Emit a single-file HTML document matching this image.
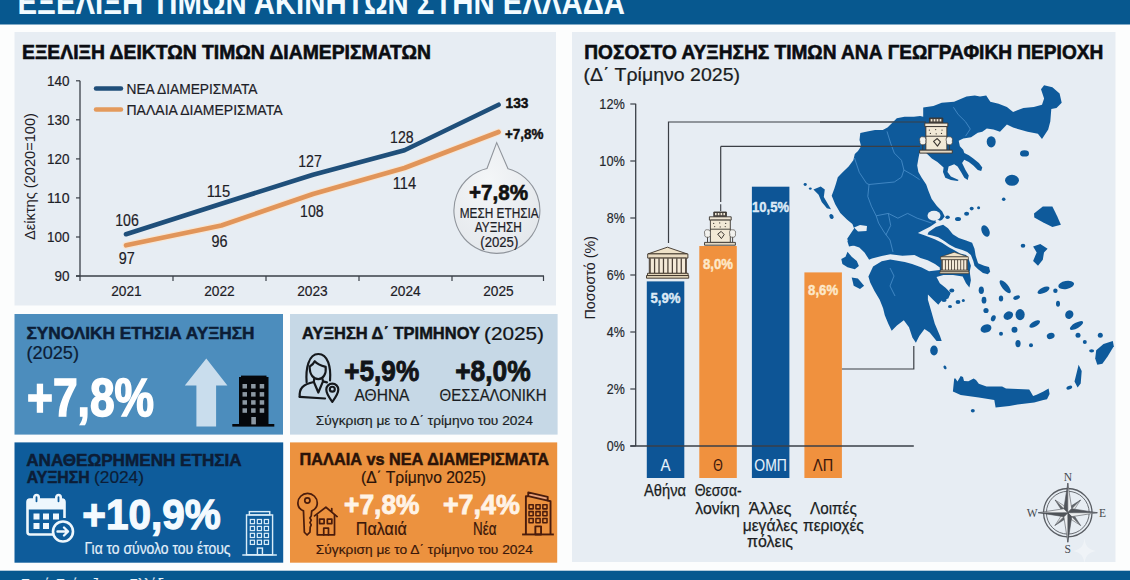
<!DOCTYPE html>
<html><head><meta charset="utf-8"><title>Εξέλιξη τιμών ακινήτων</title>
<style>html,body{margin:0;padding:0;background:#fcfdfd;width:1130px;height:580px;overflow:hidden}</style>
</head><body>
<svg width="1130" height="580" viewBox="0 0 1130 580" style="display:block;font-family:'Liberation Sans', sans-serif"><rect x="0" y="0" width="1130" height="580" fill="#fcfdfd"/>
<rect x="0" y="0" width="1130" height="24.5" fill="#07588f"/>
<rect x="0" y="570.7" width="1130" height="10" fill="#07588f"/>
<rect x="14.5" y="32" width="541.5" height="273.5" fill="#e7edf3"/>
<rect x="572" y="32" width="543.5" height="530" fill="#e7edf3"/>
<rect x="14.5" y="314" width="268.5" height="120.6" fill="#4c8dbd"/>
<rect x="290" y="314" width="267.6" height="120.6" fill="#c6d8e6"/>
<rect x="14.5" y="442.4" width="268.7" height="120.3" fill="#0e5c9b"/>
<rect x="290" y="442.4" width="267.2" height="120.3" fill="#ec923f"/>
<text x="17.5" y="14.2" font-size="33" font-weight="bold" fill="#f2fbff" text-anchor="start" textLength="607.5" lengthAdjust="spacingAndGlyphs" >ΕΞΕΛΙΞΗ ΤΙΜΩΝ ΑΚΙΝΗΤΩΝ ΣΤΗΝ ΕΛΛΑΔΑ</text>
<text x="21" y="589" font-size="15" font-weight="normal" fill="#e8f2fa" text-anchor="start" textLength="156" lengthAdjust="spacingAndGlyphs" stroke="#e8f2fa" stroke-width="0.18" >Πηγή: Τράπεζα της Ελλάδος</text>
<text x="22" y="59" font-size="20.5" font-weight="bold" fill="#0b0d12" text-anchor="start" textLength="409" lengthAdjust="spacingAndGlyphs" stroke="#0b0d12" stroke-width="0.61" >ΕΞΕΛΙΞΗ ΔΕΙΚΤΩΝ ΤΙΜΩΝ ΔΙΑΜΕΡΙΣΜΑΤΩΝ</text>
<line x1="80" y1="80.8" x2="80" y2="281" stroke="#3a3f47" stroke-width="1.3"/>
<line x1="76" y1="276" x2="544" y2="276" stroke="#3a3f47" stroke-width="1.6"/>
<line x1="76" y1="80.8" x2="80" y2="80.8" stroke="#3a3f47" stroke-width="1.2"/>
<text x="69.5" y="85.8" font-size="15.5" font-weight="normal" fill="#1d2026" text-anchor="end" textLength="22.5" lengthAdjust="spacingAndGlyphs" stroke="#1d2026" stroke-width="0.19" >140</text>
<line x1="76" y1="119.8" x2="80" y2="119.8" stroke="#3a3f47" stroke-width="1.2"/>
<text x="69.5" y="124.8" font-size="15.5" font-weight="normal" fill="#1d2026" text-anchor="end" textLength="22.5" lengthAdjust="spacingAndGlyphs" stroke="#1d2026" stroke-width="0.19" >130</text>
<line x1="76" y1="158.9" x2="80" y2="158.9" stroke="#3a3f47" stroke-width="1.2"/>
<text x="69.5" y="163.9" font-size="15.5" font-weight="normal" fill="#1d2026" text-anchor="end" textLength="22.5" lengthAdjust="spacingAndGlyphs" stroke="#1d2026" stroke-width="0.19" >120</text>
<line x1="76" y1="197.9" x2="80" y2="197.9" stroke="#3a3f47" stroke-width="1.2"/>
<text x="69.5" y="202.9" font-size="15.5" font-weight="normal" fill="#1d2026" text-anchor="end" textLength="22.5" lengthAdjust="spacingAndGlyphs" stroke="#1d2026" stroke-width="0.19" >110</text>
<line x1="76" y1="237.0" x2="80" y2="237.0" stroke="#3a3f47" stroke-width="1.2"/>
<text x="69.5" y="242.0" font-size="15.5" font-weight="normal" fill="#1d2026" text-anchor="end" textLength="22.5" lengthAdjust="spacingAndGlyphs" stroke="#1d2026" stroke-width="0.19" >100</text>
<line x1="76" y1="276.0" x2="80" y2="276.0" stroke="#3a3f47" stroke-width="1.2"/>
<text x="69.5" y="281.0" font-size="15.5" font-weight="normal" fill="#1d2026" text-anchor="end" textLength="15" lengthAdjust="spacingAndGlyphs" stroke="#1d2026" stroke-width="0.19" >90</text>
<line x1="173" y1="276" x2="173" y2="281" stroke="#3a3f47" stroke-width="1.2"/>
<line x1="266" y1="276" x2="266" y2="281" stroke="#3a3f47" stroke-width="1.2"/>
<line x1="359" y1="276" x2="359" y2="281" stroke="#3a3f47" stroke-width="1.2"/>
<line x1="452" y1="276" x2="452" y2="281" stroke="#3a3f47" stroke-width="1.2"/>
<line x1="543.5" y1="276" x2="543.5" y2="281" stroke="#3a3f47" stroke-width="1.2"/>
<text x="126.5" y="295.8" font-size="15.5" font-weight="normal" fill="#1d2026" text-anchor="middle" textLength="30.5" lengthAdjust="spacingAndGlyphs" stroke="#1d2026" stroke-width="0.19" >2021</text>
<text x="219.5" y="295.8" font-size="15.5" font-weight="normal" fill="#1d2026" text-anchor="middle" textLength="30.5" lengthAdjust="spacingAndGlyphs" stroke="#1d2026" stroke-width="0.19" >2022</text>
<text x="312.5" y="295.8" font-size="15.5" font-weight="normal" fill="#1d2026" text-anchor="middle" textLength="30.5" lengthAdjust="spacingAndGlyphs" stroke="#1d2026" stroke-width="0.19" >2023</text>
<text x="405.5" y="295.8" font-size="15.5" font-weight="normal" fill="#1d2026" text-anchor="middle" textLength="30.5" lengthAdjust="spacingAndGlyphs" stroke="#1d2026" stroke-width="0.19" >2024</text>
<text x="498.5" y="295.8" font-size="15.5" font-weight="normal" fill="#1d2026" text-anchor="middle" textLength="30.5" lengthAdjust="spacingAndGlyphs" stroke="#1d2026" stroke-width="0.19" >2025</text>
<text transform="translate(34.5,240) rotate(-90)" x="0" y="0" font-size="14" fill="#1d2026" textLength="127" lengthAdjust="spacingAndGlyphs">Δείκτης (2020=100)</text>
<line x1="96" y1="88.6" x2="121" y2="88.6" stroke="#1f4e79" stroke-width="4.5" stroke-linecap="round"/>
<line x1="96" y1="109.4" x2="121" y2="109.4" stroke="#e49a5c" stroke-width="4.5" stroke-linecap="round"/>
<text x="126.5" y="94" font-size="15.5" font-weight="normal" fill="#1d2026" text-anchor="start" textLength="131" lengthAdjust="spacingAndGlyphs" stroke="#1d2026" stroke-width="0.19" >ΝΕΑ ΔΙΑΜΕΡΙΣΜΑΤΑ</text>
<text x="126.5" y="114.6" font-size="15.5" font-weight="normal" fill="#1d2026" text-anchor="start" textLength="156" lengthAdjust="spacingAndGlyphs" stroke="#1d2026" stroke-width="0.19" >ΠΑΛΑΙΑ ΔΙΑΜΕΡΙΣΜΑΤΑ</text>
<polyline points="126,245.3 221.4,225.5 313,194 404.5,168 498.6,132" fill="none" stroke="#fbe3cc" stroke-width="7" stroke-linecap="round" stroke-linejoin="round" opacity="0.8"/>
<polyline points="126,245.3 221.4,225.5 313,194 404.5,168 498.6,132" fill="none" stroke="#e1955a" stroke-width="4.6" stroke-linecap="round" stroke-linejoin="round"/>
<polyline points="126,234.2 219,204.5 313,174.7 404.5,150.2 498.6,104.7" fill="none" stroke="#1f4f7a" stroke-width="4.6" stroke-linecap="round" stroke-linejoin="round"/>
<text x="127" y="225.5" font-size="16" font-weight="normal" fill="#1d2026" text-anchor="middle" textLength="23.5" lengthAdjust="spacingAndGlyphs" stroke="#1d2026" stroke-width="0.19" >106</text>
<text x="218.4" y="196.5" font-size="16" font-weight="normal" fill="#1d2026" text-anchor="middle" textLength="23.5" lengthAdjust="spacingAndGlyphs" stroke="#1d2026" stroke-width="0.19" >115</text>
<text x="310" y="166.8" font-size="16" font-weight="normal" fill="#1d2026" text-anchor="middle" textLength="23.5" lengthAdjust="spacingAndGlyphs" stroke="#1d2026" stroke-width="0.19" >127</text>
<text x="401.8" y="142.6" font-size="16" font-weight="normal" fill="#1d2026" text-anchor="middle" textLength="23.5" lengthAdjust="spacingAndGlyphs" stroke="#1d2026" stroke-width="0.19" >128</text>
<text x="126.8" y="263.9" font-size="16" font-weight="normal" fill="#1d2026" text-anchor="middle" textLength="16" lengthAdjust="spacingAndGlyphs" stroke="#1d2026" stroke-width="0.19" >97</text>
<text x="219.4" y="246.5" font-size="16" font-weight="normal" fill="#1d2026" text-anchor="middle" textLength="16" lengthAdjust="spacingAndGlyphs" stroke="#1d2026" stroke-width="0.19" >96</text>
<text x="311.8" y="216.8" font-size="16" font-weight="normal" fill="#1d2026" text-anchor="middle" textLength="23.5" lengthAdjust="spacingAndGlyphs" stroke="#1d2026" stroke-width="0.19" >108</text>
<text x="404.5" y="188.9" font-size="16" font-weight="normal" fill="#1d2026" text-anchor="middle" textLength="23.5" lengthAdjust="spacingAndGlyphs" stroke="#1d2026" stroke-width="0.19" >114</text>
<text x="505.5" y="107.6" font-size="15" font-weight="bold" fill="#111" text-anchor="start" textLength="23" lengthAdjust="spacingAndGlyphs" stroke="#111" stroke-width="0.45" >133</text>
<text x="505" y="138.8" font-size="14" font-weight="bold" fill="#111" text-anchor="start" textLength="38.5" lengthAdjust="spacingAndGlyphs" stroke="#111" stroke-width="0.42" >+7,8%</text>
<defs><radialGradient id="bub" cx="0.4" cy="0.35" r="0.75"><stop offset="0" stop-color="#f4f6f8"/><stop offset="1" stop-color="#e3e7eb"/></radialGradient></defs>
<path d="M496.7,142.6 L487,168.5 A43,43 0 1 0 508,168.8 Z" fill="url(#bub)" stroke="#8f949b" stroke-width="1.1"/>
<text x="498.5" y="200.4" font-size="21.5" font-weight="bold" fill="#111" text-anchor="middle" textLength="59" lengthAdjust="spacingAndGlyphs" stroke="#111" stroke-width="0.65" >+7,8%</text>
<text x="499.2" y="218.4" font-size="14.5" font-weight="normal" fill="#1d2026" text-anchor="middle" textLength="79" lengthAdjust="spacingAndGlyphs" stroke="#1d2026" stroke-width="0.20" >ΜΕΣΗ ΕΤΗΣΙΑ</text>
<text x="498.3" y="231.8" font-size="14.5" font-weight="normal" fill="#1d2026" text-anchor="middle" textLength="47" lengthAdjust="spacingAndGlyphs" stroke="#1d2026" stroke-width="0.20" >ΑΥΞΗΣΗ</text>
<text x="499.3" y="246.6" font-size="14.5" font-weight="normal" fill="#1d2026" text-anchor="middle" textLength="38" lengthAdjust="spacingAndGlyphs" stroke="#1d2026" stroke-width="0.20" >(2025)</text>
<text x="584.3" y="58.6" font-size="20.5" font-weight="bold" fill="#0b0d12" text-anchor="start" textLength="519" lengthAdjust="spacingAndGlyphs" stroke="#0b0d12" stroke-width="0.61" >ΠΟΣΟΣΤΟ ΑΥΞΗΣΗΣ ΤΙΜΩΝ ΑΝΑ ΓΕΩΓΡΑΦΙΚΗ ΠΕΡΙΟΧΗ</text>
<text x="583.5" y="81.4" font-size="18" font-weight="normal" fill="#1a1d22" text-anchor="start" textLength="156.5" lengthAdjust="spacingAndGlyphs" stroke="#1a1d22" stroke-width="0.22" >(Δ΄ Τρίμηνο 2025)</text>
<line x1="635.7" y1="103.8" x2="635.7" y2="446" stroke="#3a3f47" stroke-width="1.3"/>
<line x1="630.3" y1="104.0" x2="635.7" y2="104.0" stroke="#3a3f47" stroke-width="1.2"/>
<text x="624.8" y="108.7" font-size="15" font-weight="normal" fill="#24282d" text-anchor="end" textLength="25.5" lengthAdjust="spacingAndGlyphs" stroke="#24282d" stroke-width="0.18" >12%</text>
<line x1="630.3" y1="161.0" x2="635.7" y2="161.0" stroke="#3a3f47" stroke-width="1.2"/>
<text x="624.8" y="165.7" font-size="15" font-weight="normal" fill="#24282d" text-anchor="end" textLength="25.5" lengthAdjust="spacingAndGlyphs" stroke="#24282d" stroke-width="0.18" >10%</text>
<line x1="630.3" y1="218.0" x2="635.7" y2="218.0" stroke="#3a3f47" stroke-width="1.2"/>
<text x="624.8" y="222.7" font-size="15" font-weight="normal" fill="#24282d" text-anchor="end" textLength="18" lengthAdjust="spacingAndGlyphs" stroke="#24282d" stroke-width="0.18" >8%</text>
<line x1="630.3" y1="275.0" x2="635.7" y2="275.0" stroke="#3a3f47" stroke-width="1.2"/>
<text x="624.8" y="279.7" font-size="15" font-weight="normal" fill="#24282d" text-anchor="end" textLength="18" lengthAdjust="spacingAndGlyphs" stroke="#24282d" stroke-width="0.18" >6%</text>
<line x1="630.3" y1="332.0" x2="635.7" y2="332.0" stroke="#3a3f47" stroke-width="1.2"/>
<text x="624.8" y="336.7" font-size="15" font-weight="normal" fill="#24282d" text-anchor="end" textLength="18" lengthAdjust="spacingAndGlyphs" stroke="#24282d" stroke-width="0.18" >4%</text>
<line x1="630.3" y1="389.0" x2="635.7" y2="389.0" stroke="#3a3f47" stroke-width="1.2"/>
<text x="624.8" y="393.7" font-size="15" font-weight="normal" fill="#24282d" text-anchor="end" textLength="18" lengthAdjust="spacingAndGlyphs" stroke="#24282d" stroke-width="0.18" >2%</text>
<line x1="630.3" y1="446.0" x2="635.7" y2="446.0" stroke="#3a3f47" stroke-width="1.2"/>
<text x="624.8" y="450.7" font-size="15" font-weight="normal" fill="#24282d" text-anchor="end" textLength="18" lengthAdjust="spacingAndGlyphs" stroke="#24282d" stroke-width="0.18" >0%</text>
<text transform="translate(595.2,319.6) rotate(-90)" x="0" y="0" font-size="15" fill="#1d2026" textLength="83.5" lengthAdjust="spacingAndGlyphs">Ποσοστό (%)</text>
<polyline points="668.5,243 668.5,122 926,122" fill="none" stroke="#3b3f45" stroke-width="1.2"/>
<polyline points="720.7,146.4 920,146.4" fill="none" stroke="#3b3f45" stroke-width="1.2"/>
<line x1="720.7" y1="146.4" x2="720.7" y2="202" stroke="#3b3f45" stroke-width="1.2"/>
<line x1="720.7" y1="204.2" x2="720.7" y2="211" stroke="#3b3f45" stroke-width="1.1"/>
<polyline points="841.7,369 913.8,369 913.8,346" fill="none" stroke="#3b3f45" stroke-width="1.2"/>
<rect x="646.8" y="281.4" width="37.5" height="196.6" fill="#0d5596"/>
<text x="665.5" y="302.7" font-size="14" font-weight="bold" fill="#dceaf6" text-anchor="middle" textLength="30" lengthAdjust="spacingAndGlyphs" stroke="#dceaf6" stroke-width="0.42" >5,9%</text>
<text x="665.5" y="471.3" font-size="16" font-weight="normal" fill="#e6f2fb" text-anchor="middle" textLength="10" lengthAdjust="spacingAndGlyphs" stroke="#e6f2fb" stroke-width="0.10" >Α</text>
<rect x="699.3" y="246" width="37.5" height="232.0" fill="#f0913e"/>
<text x="718.0" y="268.9" font-size="14" font-weight="bold" fill="#fde8c8" text-anchor="middle" textLength="30" lengthAdjust="spacingAndGlyphs" stroke="#fde8c8" stroke-width="0.42" >8,0%</text>
<text x="718.0" y="471.3" font-size="16" font-weight="normal" fill="#3a160a" text-anchor="middle" textLength="9.5" lengthAdjust="spacingAndGlyphs" stroke="#3a160a" stroke-width="0.10" >Θ</text>
<rect x="751.9" y="186.7" width="37.5" height="291.3" fill="#0d5596"/>
<text x="770.6" y="212" font-size="14" font-weight="bold" fill="#dceaf6" text-anchor="middle" textLength="37" lengthAdjust="spacingAndGlyphs" stroke="#dceaf6" stroke-width="0.42" >10,5%</text>
<text x="770.6" y="471.3" font-size="16" font-weight="normal" fill="#e6f2fb" text-anchor="middle" textLength="32.5" lengthAdjust="spacingAndGlyphs" stroke="#e6f2fb" stroke-width="0.10" >ΟΜΠ</text>
<rect x="804.4" y="272.4" width="37.5" height="205.6" fill="#f0913e"/>
<text x="823.1" y="295.3" font-size="14" font-weight="bold" fill="#fde8c8" text-anchor="middle" textLength="30" lengthAdjust="spacingAndGlyphs" stroke="#fde8c8" stroke-width="0.42" >8,6%</text>
<text x="823.1" y="471.3" font-size="16" font-weight="normal" fill="#3a160a" text-anchor="middle" textLength="20" lengthAdjust="spacingAndGlyphs" stroke="#3a160a" stroke-width="0.10" >ΛΠ</text>
<line x1="630.3" y1="446" x2="913.8" y2="446" stroke="#3a3f47" stroke-width="1.5"/>
<text x="665" y="496.4" font-size="16.5" font-weight="normal" fill="#1a1d22" text-anchor="middle" textLength="42" lengthAdjust="spacingAndGlyphs" stroke="#1a1d22" stroke-width="0.25" >Αθήνα</text>
<text x="718.2" y="496.4" font-size="16.5" font-weight="normal" fill="#1a1d22" text-anchor="middle" textLength="47" lengthAdjust="spacingAndGlyphs" stroke="#1a1d22" stroke-width="0.25" >Θεσσα-</text>
<text x="717.5" y="513.7" font-size="16.5" font-weight="normal" fill="#1a1d22" text-anchor="middle" textLength="44.5" lengthAdjust="spacingAndGlyphs" stroke="#1a1d22" stroke-width="0.25" >λονίκη</text>
<text x="770.2" y="513.7" font-size="16.5" font-weight="normal" fill="#1a1d22" text-anchor="middle" textLength="42.7" lengthAdjust="spacingAndGlyphs" stroke="#1a1d22" stroke-width="0.25" >Άλλες</text>
<text x="770.2" y="531" font-size="16.5" font-weight="normal" fill="#1a1d22" text-anchor="middle" textLength="55" lengthAdjust="spacingAndGlyphs" stroke="#1a1d22" stroke-width="0.25" >μεγάλες</text>
<text x="770" y="547.3" font-size="16.5" font-weight="normal" fill="#1a1d22" text-anchor="middle" textLength="45.8" lengthAdjust="spacingAndGlyphs" stroke="#1a1d22" stroke-width="0.25" >πόλεις</text>
<text x="833.4" y="513.7" font-size="16.5" font-weight="normal" fill="#1a1d22" text-anchor="middle" textLength="46.8" lengthAdjust="spacingAndGlyphs" stroke="#1a1d22" stroke-width="0.25" >Λοιπές</text>
<text x="833.4" y="531" font-size="16.5" font-weight="normal" fill="#1a1d22" text-anchor="middle" textLength="61" lengthAdjust="spacingAndGlyphs" stroke="#1a1d22" stroke-width="0.25" >περιοχές</text>
<text x="26.5" y="338.8" font-size="17" font-weight="bold" fill="#0c1d36" text-anchor="start" textLength="228" lengthAdjust="spacingAndGlyphs" stroke="#0c1d36" stroke-width="0.51" >ΣΥΝΟΛΙΚΗ ΕΤΗΣΙΑ ΑΥΞΗΣΗ</text>
<text x="26.5" y="358.8" font-size="17.5" font-weight="normal" fill="#0c1d36" text-anchor="start" textLength="52.5" lengthAdjust="spacingAndGlyphs" stroke="#0c1d36" stroke-width="0.21" >(2025)</text>
<text x="27" y="416.4" font-size="53" font-weight="bold" fill="#ffffff" text-anchor="start" textLength="127" lengthAdjust="spacingAndGlyphs" stroke="#ffffff" stroke-width="1.59" >+7,8%</text>
<path d="M206.3,358.5 L227.4,385.6 L216.1,385.6 L216.1,426.5 L196.4,426.5 L196.4,385.6 L184.8,385.6 Z" fill="#c9dded"/>
<rect x="239" y="377" width="29.5" height="48.5" fill="#05070b"/><rect x="241" y="375.6" width="25.5" height="3" fill="#05070b"/><rect x="232.3" y="424" width="42" height="2.6" fill="#05070b"/><rect x="242.5" y="384.0" width="4.5" height="4.5" fill="#8c98a3"/><rect x="251.1" y="384.0" width="4.5" height="4.5" fill="#8c98a3"/><rect x="259.7" y="384.0" width="4.5" height="4.5" fill="#8c98a3"/><rect x="242.5" y="392.1" width="4.5" height="4.5" fill="#8c98a3"/><rect x="251.1" y="392.1" width="4.5" height="4.5" fill="#8c98a3"/><rect x="259.7" y="392.1" width="4.5" height="4.5" fill="#8c98a3"/><rect x="242.5" y="400.2" width="4.5" height="4.5" fill="#8c98a3"/><rect x="251.1" y="400.2" width="4.5" height="4.5" fill="#8c98a3"/><rect x="259.7" y="400.2" width="4.5" height="4.5" fill="#8c98a3"/><rect x="242.5" y="408.3" width="4.5" height="4.5" fill="#8c98a3"/><rect x="251.1" y="408.3" width="4.5" height="4.5" fill="#8c98a3"/><rect x="259.7" y="408.3" width="4.5" height="4.5" fill="#8c98a3"/><rect x="251.3" y="417" width="4.6" height="7.4" fill="#8c98a3"/>
<text x="302" y="339.4" font-size="17" font-weight="bold" fill="#111418" text-anchor="start" textLength="178" lengthAdjust="spacingAndGlyphs" stroke="#111418" stroke-width="0.51" >ΑΥΞΗΣΗ Δ΄ ΤΡΙΜΗΝΟΥ</text>
<text x="484" y="339.6" font-size="17.5" font-weight="normal" fill="#111418" text-anchor="start" textLength="60" lengthAdjust="spacingAndGlyphs" stroke="#111418" stroke-width="0.21" >(2025)</text>
<text x="344.2" y="380.8" font-size="29.5" font-weight="bold" fill="#111418" text-anchor="start" textLength="75" lengthAdjust="spacingAndGlyphs" stroke="#111418" stroke-width="0.89" >+5,9%</text>
<text x="455.2" y="380.8" font-size="29.5" font-weight="bold" fill="#111418" text-anchor="start" textLength="75.5" lengthAdjust="spacingAndGlyphs" stroke="#111418" stroke-width="0.89" >+8,0%</text>
<text x="354.5" y="401.4" font-size="16.5" font-weight="normal" fill="#1a1d22" text-anchor="start" textLength="55" lengthAdjust="spacingAndGlyphs" stroke="#1a1d22" stroke-width="0.20" >ΑΘΗΝΑ</text>
<text x="439.6" y="401.4" font-size="16.5" font-weight="normal" fill="#1a1d22" text-anchor="start" textLength="107" lengthAdjust="spacingAndGlyphs" stroke="#1a1d22" stroke-width="0.20" >ΘΕΣΣΑΛΟΝΙΚΗ</text>
<text x="315.8" y="424.6" font-size="13.5" font-weight="normal" fill="#1a1d22" text-anchor="start" textLength="217" lengthAdjust="spacingAndGlyphs" stroke="#1a1d22" stroke-width="0.16" >Σύγκριση με το Δ΄ τρίμηνο του 2024</text>
<g transform="translate(294,348) scale(0.10352)" fill="none" stroke="#15181c" stroke-width="21" stroke-linecap="round" stroke-linejoin="round"><path d="M122,330 C112,200 140,58 235,58 C330,58 358,190 348,312"/><path d="M152,178 C148,262 192,300 235,300 C282,300 314,252 306,182 C268,172 225,158 200,128 C190,150 172,168 152,178 Z"/><path d="M195,298 L192,328 M275,298 L280,322"/><path d="M55,472 C50,395 80,350 192,328 L235,430 L280,322 L318,332"/><path d="M55,472 L300,488"/><path d="M370,520 C345,485 312,445 312,402 A58,58 0 1 1 428,402 C428,445 395,485 370,520 Z"/><circle cx="370" cy="398" r="24"/></g>
<text x="26.2" y="465.5" font-size="17" font-weight="bold" fill="#0c1d36" text-anchor="start" textLength="215.5" lengthAdjust="spacingAndGlyphs" stroke="#0c1d36" stroke-width="0.51" >ΑΝΑΘΕΩΡΗΜΕΝΗ ΕΤΗΣΙΑ</text>
<text x="26.7" y="483.4" font-size="17" font-weight="bold" fill="#0c1d36" text-anchor="start" textLength="63" lengthAdjust="spacingAndGlyphs" stroke="#0c1d36" stroke-width="0.51" >ΑΥΞΗΣΗ</text>
<text x="94" y="483.4" font-size="17" font-weight="normal" fill="#0c1d36" text-anchor="start" textLength="50" lengthAdjust="spacingAndGlyphs" stroke="#0c1d36" stroke-width="0.20" >(2024)</text>
<text x="82.3" y="529" font-size="43" font-weight="bold" fill="#f4faff" text-anchor="start" textLength="138.5" lengthAdjust="spacingAndGlyphs" stroke="#f4faff" stroke-width="1.29" >+10,9%</text>
<text x="84.5" y="554.4" font-size="16" font-weight="normal" fill="#e3f0fa" text-anchor="start" textLength="146" lengthAdjust="spacingAndGlyphs" stroke="#e3f0fa" stroke-width="0.19" >Για το σύνολο του έτους</text>
<g transform="translate(20,490)" fill="none" stroke="#eef7fd" stroke-width="2.6" stroke-linejoin="round"><path d="M44.5,28 L44.5,12 Q44.5,9.5 42,9.5 L10,9.5 Q7.5,9.5 7.5,12 L7.5,42 Q7.5,44.5 10,44.5 L33,44.5"/><rect x="7.5" y="9.5" width="37" height="10" fill="#eef7fd" stroke="none"/><rect x="14.3" y="5" width="4.4" height="8.5" rx="2.2" fill="#0e5c9b"/><rect x="36.3" y="5" width="4.4" height="8.5" rx="2.2" fill="#0e5c9b"/><g fill="#eef7fd" stroke="none"><rect x="13.5" y="23.5" width="6" height="6"/><rect x="23" y="23.5" width="6" height="6"/><rect x="33" y="23.5" width="6" height="6"/><rect x="13.5" y="33" width="6" height="6"/><rect x="23" y="33" width="6" height="6"/></g><circle cx="43" cy="41.5" r="10" fill="#0e5c9b"/><path d="M37.5,41.5 L48,41.5 M44,37.5 L48,41.5 L44,45.5" stroke-width="2.4" stroke-linecap="round"/></g>
<g transform="translate(238,505) scale(0.09474)" fill="none" stroke="#d9ecf8" stroke-width="15"><rect x="120" y="70" width="215" height="35"/><rect x="90" y="105" width="275" height="420"/><path d="M45,528 L410,528"/><rect x="205" y="455" width="53" height="70"/><rect x="130" y="153" width="44" height="44" stroke-width="13"/><rect x="204" y="153" width="44" height="44" stroke-width="13"/><rect x="278" y="153" width="44" height="44" stroke-width="13"/><rect x="130" y="226" width="44" height="44" stroke-width="13"/><rect x="204" y="226" width="44" height="44" stroke-width="13"/><rect x="278" y="226" width="44" height="44" stroke-width="13"/><rect x="130" y="299" width="44" height="44" stroke-width="13"/><rect x="204" y="299" width="44" height="44" stroke-width="13"/><rect x="278" y="299" width="44" height="44" stroke-width="13"/><rect x="130" y="372" width="44" height="44" stroke-width="13"/><rect x="204" y="372" width="44" height="44" stroke-width="13"/><rect x="278" y="372" width="44" height="44" stroke-width="13"/></g>
<text x="299.6" y="464.6" font-size="17" font-weight="bold" fill="#2b1308" text-anchor="start" textLength="249.5" lengthAdjust="spacingAndGlyphs" stroke="#2b1308" stroke-width="0.51" >ΠΑΛΑΙΑ vs ΝΕΑ ΔΙΑΜΕΡΙΣΜΑΤΑ</text>
<text x="361" y="483.4" font-size="17" font-weight="normal" fill="#2b1308" text-anchor="start" textLength="125" lengthAdjust="spacingAndGlyphs" stroke="#2b1308" stroke-width="0.20" >(Δ΄ Τρίμηνο 2025)</text>
<text x="344" y="514.1" font-size="28" font-weight="bold" fill="#fff3e6" text-anchor="start" textLength="75.5" lengthAdjust="spacingAndGlyphs" stroke="#fff3e6" stroke-width="0.84" >+7,8%</text>
<text x="442.9" y="514.1" font-size="28" font-weight="bold" fill="#fff3e6" text-anchor="start" textLength="77" lengthAdjust="spacingAndGlyphs" stroke="#fff3e6" stroke-width="0.84" >+7,4%</text>
<text x="355.8" y="535.3" font-size="18" font-weight="normal" fill="#3a170a" text-anchor="start" textLength="51" lengthAdjust="spacingAndGlyphs" stroke="#3a170a" stroke-width="0.22" >Παλαιά</text>
<text x="473" y="535.3" font-size="18" font-weight="normal" fill="#3a170a" text-anchor="start" textLength="23.5" lengthAdjust="spacingAndGlyphs" stroke="#3a170a" stroke-width="0.22" >Νέα</text>
<text x="315.8" y="554.4" font-size="13.5" font-weight="normal" fill="#3a170a" text-anchor="start" textLength="217" lengthAdjust="spacingAndGlyphs" stroke="#3a170a" stroke-width="0.16" >Σύγκριση με το Δ΄ τρίμηνο του 2024</text>
<g transform="translate(294,490) scale(0.08621)" fill="none" stroke="#4a1c0c" stroke-width="20" stroke-linejoin="round" stroke-linecap="round"><path d="M110,242 C60,222 45,180 45,150 C45,90 95,40 157,40 C220,40 270,90 270,150 C270,190 245,225 205,245 L200,300 L185,325 L200,350 L185,378 L200,405 L188,430 L185,490 L152,522 L120,490 Z"/><circle cx="155" cy="122" r="30"/><path d="M238,300 L370,200 L500,308 M438,215 L438,250"/><path d="M270,292 L270,520 L470,520 L470,292"/><rect x="297" y="337" width="52" height="52"/><rect x="387" y="337" width="52" height="52"/><path d="M345,520 L345,442 L400,442 L400,520"/></g>
<g transform="translate(515,485) scale(0.09474)" fill="none" stroke="#4a1c0c" stroke-width="20" stroke-linejoin="round"><path d="M140,78 L345,125 L345,165 L140,118 Z" fill="#e9a17a"/><path d="M115,520 L115,118 L140,118 M345,165 L375,172 L375,520"/><path d="M75,522 L410,522"/><rect x="215" y="437" width="60" height="85"/><rect x="148" y="208" width="44" height="44" stroke-width="16"/><rect x="221" y="208" width="44" height="44" stroke-width="16"/><rect x="294" y="208" width="44" height="44" stroke-width="16"/><rect x="148" y="281" width="44" height="44" stroke-width="16"/><rect x="221" y="281" width="44" height="44" stroke-width="16"/><rect x="294" y="281" width="44" height="44" stroke-width="16"/><rect x="148" y="354" width="44" height="44" stroke-width="16"/><rect x="221" y="354" width="44" height="44" stroke-width="16"/><rect x="294" y="354" width="44" height="44" stroke-width="16"/></g>
<g><polygon points="860.3,133 867.3,131.5 875,129.9 882.8,129.9 887.5,127.6 892.1,123 896.8,118.3 904.5,116.7 913.9,116.7 920.1,116 923.2,116.7 923.2,107.4 933.4,105.9 941.7,102.8 954.1,101.7 966.5,96.5 974.8,95.5 980,96.5 986.2,95.5 990.3,101.7 998.6,103.8 1006.9,106.9 1013.1,112 1023.4,107.9 1033.8,106.9 1042,104.8 1044.1,98.6 1041,89.3 1044.1,85.2 1052.4,87.2 1059.6,93.4 1061.7,102.7 1056.5,107.9 1051.3,109 1050.3,121.4 1048.2,129.6 1042,138.9 1037.9,133.8 1027.6,131.7 1013.1,127.6 1006.9,124.5 1000,131.7 993.5,129.5 986.8,128.4 982.3,131.7 977.8,132.8 971.1,137.3 963.2,138.5 958.7,140.7 959.9,146.3 963.2,149.7 964.3,153 968.8,155.3 973.3,158.6 978.9,163.1 982.3,167.6 981.2,171 977.8,169.9 973.3,165.4 968.8,162 964.3,159.8 962.1,163.1 965.5,169.9 968.8,175.5 967.7,180 964.3,177.7 961,172.1 957.6,166.5 954.2,164.2 948.6,166.5 947.5,172.1 950.9,176.6 958.7,180 957.6,181.1 950.9,180 945.3,177.7 943,172.1 943.6,167.6 937.4,162 931.8,158.6 928.5,155.3 925.1,151.9 919.5,153 918.4,158.6 917.2,165.4 918.4,172.1 921.7,177.7 926.2,184.4 928.3,190.5 931.7,199.1 936.9,206 942.1,211.2 944.7,216.4 942.1,219.8 935.2,223.3 930,226.7 923.1,230.2 917.9,233 925,235.5 934.7,239.2 941.9,242.8 949.2,247.6 954,250 960,253.6 966.1,254.9 968.5,258.5 970.9,265.7 969.7,271.8 970.9,280.2 969.4,287.5 966,283.3 962.7,276.5 953.1,275 943.4,275 936.5,277 939.8,283.3 945.8,288.1 950.7,292.9 948.3,298.5 941.7,300.5 938.3,304.8 933.1,299.7 927.9,294.5 927.9,299.7 931.4,311.7 934.8,323.8 940,335.9 941.7,341 936.6,341 929.7,332.4 924.5,329 919.3,335.9 915.9,342.8 912.4,337.6 909,327.2 903.8,320.3 896.9,325.5 891.7,330.7 888.3,323.8 884.8,315.2 883.1,308.3 879.7,299.7 874.5,291 870.2,282.4 868.4,276.4 873.1,266.4 867.9,257.8 864.5,252.6 859.3,247.4 849,244 847.2,238.8 850.7,233.6 854.1,228.4 852.4,224.1 847.2,219.8 840.3,212.9 835.2,204.3 831.7,195.7 834.3,188.8 836,183.6 837.8,177.3 842.4,172.6 848.6,166.4 853.3,160.2 854.8,154 858,150.9 861.1,146.2 859.5,140" fill="#0e5a9b" /><polygon points="866,261 872,258.5 881.7,256 890.3,254.3 902.4,255.8 914.5,254.9 920.5,257.9 927.7,260.3 935,264 939.8,267.6 939.8,270 929,271.2 921.7,267.6 912.1,264 904.8,262.1 890.3,259.5 881.7,261.2 873.1,266.4 867,264" fill="#e7edf3" /><polygon points="854,227.5 860,225 867,226 866.5,231 858,231.5" fill="#e7edf3" /><ellipse cx="934" cy="215.8" rx="6.5" ry="5" fill="#e7edf3"/><polygon points="936,219 940.5,221 944,225.5 941,226.5 935.5,222" fill="#e7edf3" /><polygon points="928.6,231.9 935.9,227.1 943.1,224.7 948,228.3 952.8,234.3 958.8,238 966.1,240.4 972.1,242.8 974.5,248.8 975.7,256.1 978.1,263.3 984.2,265.7 989,266.9 990.2,271.8 987.8,274.2 983,273 978.1,269.3 974.5,265.7 973.3,260.9 970.9,254.9 967.3,252 962.4,250 955.2,247.8 949.2,244.6 944.3,241 938.3,237.3 932.2,235.6 927.5,234.5" fill="#0e5a9b" /><polygon points="952.9,391.5 954.2,378.6 955.5,378.6 957.5,381.5 960.7,376 963,377 964,381 968.4,381.2 973.6,378.6 976,380 978.8,383.8 986.5,386.4 1002.1,386.4 1006,388.5 1017.6,389 1029.2,389.5 1030.5,391.5 1033.1,396 1036.6,394.7 1043.4,391.5 1048.6,388.5 1049.6,394.1 1047,399.3 1043.4,400 1034.2,402.5 1017.6,404.5 1009.4,406 995.6,407.5 994.3,400 978.8,397.5 960.7,395" fill="#0e5a9b" /><polygon points="813.4,189.6 820.7,186.5 824.8,189.6 823.8,196.9 827.9,204.1 831,209.3 826.9,208.2 821.7,202 818.6,194.8" fill="#0e5a9b" /><polygon points="849.5,236 854.5,234 856.5,240 853.8,245.5 849,246.5 847.5,241.5" fill="#0e5a9b" /><polygon points="847.5,251.7 851.7,256.8 856.8,261 858.9,266.1 854.8,269.2 847.5,267.2 842.4,264 841.3,258.9 845.5,256.8" fill="#0e5a9b" /><polygon points="851.7,277.5 857.9,278.5 864.1,285.8 860,288.9 853.7,285.8" fill="#0e5a9b" /><polygon points="1034,213.5 1042.8,206.6 1052.4,206.6 1057.2,216.2 1060.9,224.7 1052.4,227 1042.8,222.2 1034.3,217.4" fill="#0e5a9b" /><polygon points="1033.1,246.4 1040.3,244 1047.6,248.8 1044,252.4 1042.8,259.7 1038,265.7 1033.1,260.9 1036.7,252.4" fill="#0e5a9b" /><polygon points="1096.2,350.3 1103.5,344.1 1112.8,341 1113.8,346.2 1107.6,356.6 1102.4,363.8 1097.3,364.8 1095.2,358.6" fill="#0e5a9b" /><polygon points="1078.6,364.8 1081.7,371 1080.7,383.5 1077.6,387.6 1074.5,381.4 1076.6,373.1" fill="#0e5a9b" /><ellipse cx="991.2" cy="141.8" rx="4.5" ry="5.6" transform="rotate(0 991.2 141.8)" fill="#0e5a9b"/><ellipse cx="1024.5" cy="153.4" rx="4.5" ry="3.2" transform="rotate(0 1024.5 153.4)" fill="#0e5a9b"/><ellipse cx="1012" cy="180.3" rx="7" ry="5.5" transform="rotate(0 1012 180.3)" fill="#0e5a9b"/><ellipse cx="1003.7" cy="199.3" rx="1.8" ry="1.8" transform="rotate(0 1003.7 199.3)" fill="#0e5a9b"/><ellipse cx="985.5" cy="231" rx="3.8" ry="6" transform="rotate(-25 985.5 231)" fill="#0e5a9b"/><ellipse cx="1023" cy="245.7" rx="2.3" ry="2" transform="rotate(0 1023 245.7)" fill="#0e5a9b"/><ellipse cx="947.6" cy="217.2" rx="2.2" ry="1.8" transform="rotate(0 947.6 217.2)" fill="#0e5a9b"/><ellipse cx="958" cy="219" rx="3" ry="2" transform="rotate(0 958 219)" fill="#0e5a9b"/><ellipse cx="966.6" cy="213.8" rx="2.5" ry="2" transform="rotate(0 966.6 213.8)" fill="#0e5a9b"/><ellipse cx="971.7" cy="208.6" rx="2" ry="1.8" transform="rotate(0 971.7 208.6)" fill="#0e5a9b"/><ellipse cx="978.6" cy="207.8" rx="1.5" ry="1.5" transform="rotate(0 978.6 207.8)" fill="#0e5a9b"/><ellipse cx="1005.2" cy="286.7" rx="3" ry="8" transform="rotate(-40 1005.2 286.7)" fill="#0e5a9b"/><ellipse cx="1016.6" cy="297.6" rx="3.5" ry="2" transform="rotate(-20 1016.6 297.6)" fill="#0e5a9b"/><ellipse cx="1001" cy="298.6" rx="2.2" ry="3" transform="rotate(0 1001 298.6)" fill="#0e5a9b"/><ellipse cx="984" cy="300.2" rx="2.4" ry="3.4" transform="rotate(0 984 300.2)" fill="#0e5a9b"/><ellipse cx="981.3" cy="290.3" rx="2.6" ry="3.8" transform="rotate(0 981.3 290.3)" fill="#0e5a9b"/><ellipse cx="986" cy="310.5" rx="2.6" ry="2.6" transform="rotate(0 986 310.5)" fill="#0e5a9b"/><ellipse cx="993.3" cy="318.3" rx="2.3" ry="3.2" transform="rotate(20 993.3 318.3)" fill="#0e5a9b"/><ellipse cx="1008.3" cy="315.6" rx="5" ry="4" transform="rotate(-30 1008.3 315.6)" fill="#0e5a9b"/><ellipse cx="1020.1" cy="314.6" rx="4.6" ry="5.6" transform="rotate(0 1020.1 314.6)" fill="#0e5a9b"/><ellipse cx="986" cy="328.6" rx="5.6" ry="4" transform="rotate(-20 986 328.6)" fill="#0e5a9b"/><ellipse cx="1001" cy="333.8" rx="2" ry="2" transform="rotate(0 1001 333.8)" fill="#0e5a9b"/><ellipse cx="1014.5" cy="329.7" rx="3" ry="3" transform="rotate(0 1014.5 329.7)" fill="#0e5a9b"/><ellipse cx="1034.7" cy="324" rx="6" ry="2.6" transform="rotate(-30 1034.7 324)" fill="#0e5a9b"/><ellipse cx="1018" cy="343.6" rx="2.6" ry="3.6" transform="rotate(0 1018 343.6)" fill="#0e5a9b"/><ellipse cx="1031" cy="345.2" rx="2" ry="2" transform="rotate(0 1031 345.2)" fill="#0e5a9b"/><ellipse cx="1050.7" cy="335.9" rx="4" ry="3" transform="rotate(-20 1050.7 335.9)" fill="#0e5a9b"/><ellipse cx="1043.5" cy="290.3" rx="6.5" ry="2.8" transform="rotate(-25 1043.5 290.3)" fill="#0e5a9b"/><ellipse cx="1066.2" cy="285" rx="8" ry="4" transform="rotate(-10 1066.2 285)" fill="#0e5a9b"/><ellipse cx="1055.4" cy="290.8" rx="2.2" ry="2.2" transform="rotate(0 1055.4 290.8)" fill="#0e5a9b"/><ellipse cx="1058" cy="303.8" rx="2" ry="3" transform="rotate(0 1058 303.8)" fill="#0e5a9b"/><ellipse cx="1069.3" cy="314.6" rx="4" ry="4.5" transform="rotate(30 1069.3 314.6)" fill="#0e5a9b"/><ellipse cx="1076.5" cy="325.5" rx="7.5" ry="2.8" transform="rotate(-30 1076.5 325.5)" fill="#0e5a9b"/><ellipse cx="1078" cy="335.3" rx="2.5" ry="2.5" transform="rotate(0 1078 335.3)" fill="#0e5a9b"/><ellipse cx="1084.8" cy="342" rx="2" ry="2" transform="rotate(0 1084.8 342)" fill="#0e5a9b"/><ellipse cx="1100.3" cy="335.3" rx="2.5" ry="2.5" transform="rotate(0 1100.3 335.3)" fill="#0e5a9b"/><ellipse cx="1091.6" cy="350.8" rx="2.5" ry="1.6" transform="rotate(0 1091.6 350.8)" fill="#0e5a9b"/><ellipse cx="1069.3" cy="387.6" rx="3" ry="1.8" transform="rotate(-20 1069.3 387.6)" fill="#0e5a9b"/><ellipse cx="934" cy="350.5" rx="3.8" ry="5" transform="rotate(0 934 350.5)" fill="#0e5a9b"/><ellipse cx="945" cy="367.4" rx="1.4" ry="2" transform="rotate(-30 945 367.4)" fill="#0e5a9b"/><ellipse cx="972.8" cy="410.8" rx="2" ry="1.8" transform="rotate(0 972.8 410.8)" fill="#0e5a9b"/><ellipse cx="831.5" cy="216.5" rx="2" ry="2.6" transform="rotate(-30 831.5 216.5)" fill="#0e5a9b"/><ellipse cx="805.2" cy="184.5" rx="1.6" ry="1.4" transform="rotate(0 805.2 184.5)" fill="#0e5a9b"/><ellipse cx="810.3" cy="188.6" rx="1.4" ry="1.2" transform="rotate(0 810.3 188.6)" fill="#0e5a9b"/><ellipse cx="944" cy="300" rx="2.6" ry="2" transform="rotate(0 944 300)" fill="#0e5a9b"/><ellipse cx="950" cy="306.5" rx="2" ry="1.6" transform="rotate(0 950 306.5)" fill="#0e5a9b"/><ellipse cx="958" cy="302" rx="2.4" ry="2" transform="rotate(0 958 302)" fill="#0e5a9b"/><ellipse cx="951.8" cy="290.5" rx="2.5" ry="2" transform="rotate(0 951.8 290.5)" fill="#0e5a9b"/><ellipse cx="928.5" cy="310" rx="1.6" ry="1.6" transform="rotate(0 928.5 310)" fill="#0e5a9b"/><ellipse cx="963.3" cy="300.5" rx="1.5" ry="1.5" transform="rotate(0 963.3 300.5)" fill="#0e5a9b"/><path d="M887,131.4 L890.7,143.4 L894.3,153.1 L901.5,160.3 L903.9,170 L901.5,177.2 L894.3,182 L881,183.3 L869,184.5" fill="none" stroke="#4f93cf" stroke-width="0.9" opacity="0.85"/><path d="M854.5,158 L859.3,172.4 L866.5,183.3 L869,184.5" fill="none" stroke="#4f93cf" stroke-width="0.9" opacity="0.85"/><path d="M903.9,170 L912.4,174.8 L919.6,179.6" fill="none" stroke="#4f93cf" stroke-width="0.9" opacity="0.85"/><path d="M869,184.5 L867.8,196.5 L871.4,206.2 L876.2,215.8 L878.6,223.1" fill="none" stroke="#4f93cf" stroke-width="0.9" opacity="0.85"/><path d="M876.2,215.8 L888.3,213.4 L897.9,218.2 L907.6,213.4 L917.2,218.2 L931.7,223.1" fill="none" stroke="#4f93cf" stroke-width="0.9" opacity="0.85"/><path d="M888.3,213.4 L890.7,225.5 L885.8,235.1" fill="none" stroke="#4f93cf" stroke-width="0.9" opacity="0.85"/><path d="M953.4,107.2 L958.2,114.5 L965.5,121.7 L970.3,129 L965.5,136.2" fill="none" stroke="#4f93cf" stroke-width="0.9" opacity="0.85"/><path d="M878.6,223.1 L884,232 L890,240 L893,252" fill="none" stroke="#4f93cf" stroke-width="0.9" opacity="0.85"/><path d="M890,268 L894,276 L890,286 L895,296" fill="none" stroke="#4f93cf" stroke-width="0.9" opacity="0.85"/></g>
<line x1="820" y1="122" x2="926" y2="122" stroke="#3b3f45" stroke-width="1.2"/>
<line x1="820" y1="146.4" x2="920" y2="146.4" stroke="#3b3f45" stroke-width="1.2"/>
<g transform="translate(646.5,246.9) scale(1.0)" stroke="#3a3026" stroke-width="0.9" stroke-linejoin="round"><path d="M20.9,0.3 L40.6,7 L1.6,7 Z" fill="#efe2c8"/><rect x="1.2" y="7" width="40.2" height="4.2" fill="#eadcc2"/><rect x="2.8" y="11.2" width="37" height="15.3" fill="#f4ead8"/><rect x="3.00" y="11.4" width="1.25" height="15" fill="#4a4036" stroke="none"/><rect x="7.45" y="11.4" width="1.25" height="15" fill="#4a4036" stroke="none"/><rect x="11.90" y="11.4" width="1.25" height="15" fill="#4a4036" stroke="none"/><rect x="16.35" y="11.4" width="1.25" height="15" fill="#4a4036" stroke="none"/><rect x="20.80" y="11.4" width="1.25" height="15" fill="#4a4036" stroke="none"/><rect x="25.25" y="11.4" width="1.25" height="15" fill="#4a4036" stroke="none"/><rect x="29.70" y="11.4" width="1.25" height="15" fill="#4a4036" stroke="none"/><rect x="34.15" y="11.4" width="1.25" height="15" fill="#4a4036" stroke="none"/><rect x="38.60" y="11.4" width="1.25" height="15" fill="#4a4036" stroke="none"/><rect x="1" y="26.4" width="40.6" height="2.3" fill="#e6d8bc"/><rect x="0" y="28.6" width="42.2" height="2.7" fill="#ddd0b4"/></g>
<g transform="translate(939.8,252) scale(0.69)" stroke="#3a3026" stroke-width="0.9" stroke-linejoin="round"><path d="M20.9,0.3 L40.6,7 L1.6,7 Z" fill="#efe2c8"/><rect x="1.2" y="7" width="40.2" height="4.2" fill="#eadcc2"/><rect x="2.8" y="11.2" width="37" height="15.3" fill="#f4ead8"/><rect x="3.00" y="11.4" width="1.25" height="15" fill="#4a4036" stroke="none"/><rect x="7.45" y="11.4" width="1.25" height="15" fill="#4a4036" stroke="none"/><rect x="11.90" y="11.4" width="1.25" height="15" fill="#4a4036" stroke="none"/><rect x="16.35" y="11.4" width="1.25" height="15" fill="#4a4036" stroke="none"/><rect x="20.80" y="11.4" width="1.25" height="15" fill="#4a4036" stroke="none"/><rect x="25.25" y="11.4" width="1.25" height="15" fill="#4a4036" stroke="none"/><rect x="29.70" y="11.4" width="1.25" height="15" fill="#4a4036" stroke="none"/><rect x="34.15" y="11.4" width="1.25" height="15" fill="#4a4036" stroke="none"/><rect x="38.60" y="11.4" width="1.25" height="15" fill="#4a4036" stroke="none"/><rect x="1" y="26.4" width="40.6" height="2.3" fill="#e6d8bc"/><rect x="0" y="28.6" width="42.2" height="2.7" fill="#ddd0b4"/></g>
<g transform="translate(704.2,211.6) scale(1.0)" stroke="#3a3530" stroke-width="0.9" stroke-linejoin="round"><rect x="9.6" y="0.4" width="12.6" height="4.8" fill="#4a4540"/><g fill="#efe6d4" stroke="none"><rect x="10.8" y="1.4" width="1.6" height="2.2"/><rect x="13.6" y="1.4" width="1.6" height="2.2"/><rect x="16.4" y="1.4" width="1.6" height="2.2"/><rect x="19.2" y="1.4" width="1.6" height="2.2"/></g><rect x="5.2" y="5.2" width="21.8" height="3.3" fill="#efe6d4"/><rect x="6.2" y="8.5" width="19.9" height="22.3" fill="#f2e9d6"/><line x1="6.2" y1="17.6" x2="26.1" y2="17.6"/><path d="M13.5,22.5 L17,19.8 L20,23 L17.2,27 Z" fill="none" stroke-width="1"/><path d="M3.3,30.8 L3.3,21" /><path d="M0.6,22.5 C-0.6,19.5 1.5,17.6 3.4,18.2 C5.6,17.8 6.8,20 6.1,22.2 C6.8,24.5 5,26.2 3.3,25.6 C1.4,26 0,24.3 0.6,22.5 Z" fill="#f2f2ee" stroke-width="0.6"/><path d="M28.4,30.8 L28.4,21" /><path d="M25.7,22.5 C24.5,19.5 26.6,17.6 28.5,18.2 C30.7,17.8 31.9,20 31.2,22.2 C31.9,24.5 30.1,26.2 28.4,25.6 C26.5,26 25.1,24.3 25.7,22.5 Z" fill="#f2f2ee" stroke-width="0.6"/><rect x="0.3" y="30.8" width="30.9" height="2.8" fill="#e2d8c4"/><circle cx="9.5" cy="11.8" r="0.6" fill="#3a3530" stroke="none"/><circle cx="15.5" cy="11.3" r="0.6" fill="#3a3530" stroke="none"/><circle cx="21.5" cy="11.8" r="0.6" fill="#3a3530" stroke="none"/><circle cx="10.5" cy="15" r="0.6" fill="#3a3530" stroke="none"/><circle cx="16" cy="15.3" r="0.6" fill="#3a3530" stroke="none"/><circle cx="21" cy="15" r="0.6" fill="#3a3530" stroke="none"/></g>
<g transform="translate(919.3,117.6) scale(1.057)" stroke="#3a3530" stroke-width="0.9" stroke-linejoin="round"><rect x="9.6" y="0.4" width="12.6" height="4.8" fill="#4a4540"/><g fill="#efe6d4" stroke="none"><rect x="10.8" y="1.4" width="1.6" height="2.2"/><rect x="13.6" y="1.4" width="1.6" height="2.2"/><rect x="16.4" y="1.4" width="1.6" height="2.2"/><rect x="19.2" y="1.4" width="1.6" height="2.2"/></g><rect x="5.2" y="5.2" width="21.8" height="3.3" fill="#efe6d4"/><rect x="6.2" y="8.5" width="19.9" height="22.3" fill="#f2e9d6"/><line x1="6.2" y1="17.6" x2="26.1" y2="17.6"/><path d="M13.5,22.5 L17,19.8 L20,23 L17.2,27 Z" fill="none" stroke-width="1"/><path d="M3.3,30.8 L3.3,21" /><path d="M0.6,22.5 C-0.6,19.5 1.5,17.6 3.4,18.2 C5.6,17.8 6.8,20 6.1,22.2 C6.8,24.5 5,26.2 3.3,25.6 C1.4,26 0,24.3 0.6,22.5 Z" fill="#f2f2ee" stroke-width="0.6"/><path d="M28.4,30.8 L28.4,21" /><path d="M25.7,22.5 C24.5,19.5 26.6,17.6 28.5,18.2 C30.7,17.8 31.9,20 31.2,22.2 C31.9,24.5 30.1,26.2 28.4,25.6 C26.5,26 25.1,24.3 25.7,22.5 Z" fill="#f2f2ee" stroke-width="0.6"/><rect x="0.3" y="30.8" width="30.9" height="2.8" fill="#e2d8c4"/><circle cx="9.5" cy="11.8" r="0.6" fill="#3a3530" stroke="none"/><circle cx="15.5" cy="11.3" r="0.6" fill="#3a3530" stroke="none"/><circle cx="21.5" cy="11.8" r="0.6" fill="#3a3530" stroke="none"/><circle cx="10.5" cy="15" r="0.6" fill="#3a3530" stroke="none"/><circle cx="16" cy="15.3" r="0.6" fill="#3a3530" stroke="none"/><circle cx="21" cy="15" r="0.6" fill="#3a3530" stroke="none"/></g>
<g transform="translate(1067.8,512.7)"><circle r="24.2" fill="none" stroke="#595d63" stroke-width="1.3"/><circle r="21.4" fill="none" stroke="#595d63" stroke-width="0.9"/><path d="M0,0 L12.73,-12.73 L0.00,-4.60 Z" fill="#61656b" stroke="#4d5157" stroke-width="0.5" stroke-linejoin="round"/><path d="M0,0 L12.73,-12.73 L4.60,-0.00 Z" fill="#e6e8ea" stroke="#4d5157" stroke-width="0.5" stroke-linejoin="round"/><path d="M0,0 L12.73,12.73 L4.60,-0.00 Z" fill="#61656b" stroke="#4d5157" stroke-width="0.5" stroke-linejoin="round"/><path d="M0,0 L12.73,12.73 L0.00,4.60 Z" fill="#e6e8ea" stroke="#4d5157" stroke-width="0.5" stroke-linejoin="round"/><path d="M0,0 L-12.73,12.73 L0.00,4.60 Z" fill="#61656b" stroke="#4d5157" stroke-width="0.5" stroke-linejoin="round"/><path d="M0,0 L-12.73,12.73 L-4.60,0.00 Z" fill="#e6e8ea" stroke="#4d5157" stroke-width="0.5" stroke-linejoin="round"/><path d="M0,0 L-12.73,-12.73 L-4.60,0.00 Z" fill="#61656b" stroke="#4d5157" stroke-width="0.5" stroke-linejoin="round"/><path d="M0,0 L-12.73,-12.73 L-0.00,-4.60 Z" fill="#e6e8ea" stroke="#4d5157" stroke-width="0.5" stroke-linejoin="round"/><path d="M0,0 L0.00,-29.50 L-3.96,-3.96 Z" fill="#50545a" stroke="#4d5157" stroke-width="0.6" stroke-linejoin="round"/><path d="M0,0 L0.00,-29.50 L3.96,-3.96 Z" fill="#eceef0" stroke="#4d5157" stroke-width="0.6" stroke-linejoin="round"/><path d="M0,0 L29.50,-0.00 L3.96,-3.96 Z" fill="#50545a" stroke="#4d5157" stroke-width="0.6" stroke-linejoin="round"/><path d="M0,0 L29.50,-0.00 L3.96,3.96 Z" fill="#eceef0" stroke="#4d5157" stroke-width="0.6" stroke-linejoin="round"/><path d="M0,0 L0.00,29.50 L3.96,3.96 Z" fill="#50545a" stroke="#4d5157" stroke-width="0.6" stroke-linejoin="round"/><path d="M0,0 L0.00,29.50 L-3.96,3.96 Z" fill="#eceef0" stroke="#4d5157" stroke-width="0.6" stroke-linejoin="round"/><path d="M0,0 L-29.50,0.00 L-3.96,3.96 Z" fill="#50545a" stroke="#4d5157" stroke-width="0.6" stroke-linejoin="round"/><path d="M0,0 L-29.50,0.00 L-3.96,-3.96 Z" fill="#eceef0" stroke="#4d5157" stroke-width="0.6" stroke-linejoin="round"/></g>
<text x="1067.8" y="480.8" font-size="11.5" fill="#44484d" text-anchor="middle" font-family="Liberation Serif, serif">N</text>
<text x="1067.8" y="552.6" font-size="11.5" fill="#44484d" text-anchor="middle" font-family="Liberation Serif, serif">S</text>
<text x="1032.2" y="516.5" font-size="11.5" fill="#44484d" text-anchor="middle" font-family="Liberation Serif, serif">W</text>
<text x="1102.4" y="516.5" font-size="11.5" fill="#44484d" text-anchor="middle" font-family="Liberation Serif, serif">E</text>
<path d="M1084.5,538 C1085.5,546 1087.5,549 1096,551 C1087.5,553 1085.5,556 1084.5,564 C1083.5,556 1081.5,553 1073,551 C1081.5,549 1083.5,546 1084.5,538 Z" fill="#ffffff" opacity="0.35"/></svg>
</body></html>
